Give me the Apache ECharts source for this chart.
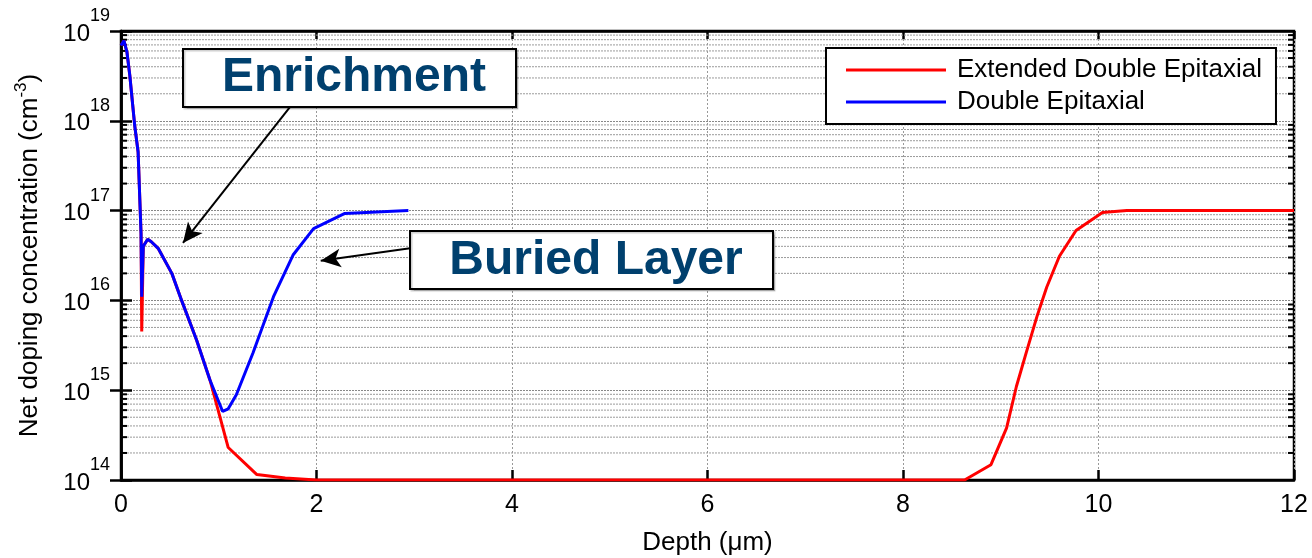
<!DOCTYPE html>
<html>
<head>
<meta charset="utf-8">
<script src="https://cdn.jsdelivr.net/npm/echarts@6/dist/echarts.min.js"></script>
<style>
  html, body { margin: 0; padding: 0; background: #fff; }
  #main { width: 1312px; height: 558px; }
</style>
</head>
<body>
<div id="main"></div>
<script>
// depth in um, net doping in cm^-3
var depthRed = [0, 0.03, 0.061, 0.09, 0.14, 0.175, 0.205, 0.212, 0.228, 0.273, 0.31, 0.38, 0.52, 0.62, 0.774, 0.91,
    1.097, 1.39, 1.68, 2.0, 8.63, 8.9, 9.06, 9.16, 9.26, 9.37, 9.47, 9.6, 9.77, 10.04, 10.29, 12];
var concRed = [6.9e18, 7.8e18, 5.8e18, 3.2e18, 8.9e17, 4.5e17, 5.6e16, 4.5e15, 4.0e16, 4.8e16, 4.5e16, 3.8e16, 2.0e16, 1.0e16, 3.6e15, 1.3e15,
    2.3e14, 1.15e14, 1.05e14, 1.0e14, 1.0e14, 1.48e14, 3.8e14, 1.1e15, 2.6e15, 6.6e15, 1.4e16, 3.1e16, 6.0e16, 9.5e16, 1.0e17, 1.0e17];

var depthBlue = [0, 0.03, 0.061, 0.09, 0.14, 0.175, 0.205, 0.212, 0.228, 0.273, 0.31, 0.38, 0.52, 0.62, 0.774, 0.91,
    1.04, 1.097, 1.18, 1.35, 1.56, 1.76, 1.97, 2.29, 2.94];
var concBlue = [6.9e18, 7.8e18, 5.8e18, 3.2e18, 8.9e17, 4.5e17, 5.6e16, 1.1e16, 4.0e16, 4.8e16, 4.5e16, 3.8e16, 2.0e16, 1.0e16, 3.6e15, 1.3e15,
    5.8e14, 6.2e14, 8.9e14, 2.6e15, 1.1e16, 3.2e16, 6.3e16, 9.3e16, 1.0e17];

var seriesNames = ['Extended Double Epitaxial', 'Double Epitaxial'];

// arrows: [from, to] in (depth, conc)
var arrowEnrich = [[1.73, 1.43e18], [0.634, 4.36e16]];
var arrowBuried = [[2.957, 3.8e16], [2.043, 2.77e16]];

var FONT = '"Liberation Sans", Arial, Helvetica, sans-serif';

function pairs(xs, ys) {
    var out = [];
    for (var i = 0; i < xs.length; i++) out.push([xs[i], ys[i]]);
    return out;
}

// minor log grid positions 2..9 x 10^n
var minorVals = [];
for (var e = 14; e < 19; e++) {
    for (var k = 2; k <= 9; k++) minorVals.push([0, k * Math.pow(10, e)]);
}

var myChart = echarts.init(document.getElementById('main'));

var option = {
    animation: false,
    backgroundColor: '#fff',
    grid: {
        left: 121, right: 18, top: 31, bottom: 78,
        outerBoundsMode: 'none',
        show: true, borderColor: '#000', borderWidth: 2.5
    },
    legend: {
        left: 826, top: 48,
        orient: 'vertical',
        backgroundColor: '#fff',
        borderColor: '#000', borderWidth: 2,
        padding: [8, 14, 8, 20],
        itemWidth: 100, itemHeight: 3, itemGap: 4,
        icon: 'rect',
        textStyle: { fontSize: 26, lineHeight: 28, color: '#000', fontFamily: FONT, padding: [0, 0, 0, 6] },
        data: seriesNames
    },
    xAxis: [
        {
            type: 'value', min: 0, max: 12, interval: 2,
            name: 'Depth (\u03bcm)', nameLocation: 'middle', nameGap: 50,
            nameTextStyle: { fontSize: 26, color: '#000', fontFamily: FONT },
            axisLine: { show: true, lineStyle: { color: '#000', width: 2.5 } },
            axisTick: { show: true, inside: true, length: 10, lineStyle: { color: '#000', width: 2.5 } },
            axisLabel: { fontSize: 25, color: '#000', fontFamily: FONT, margin: 13 },
            splitLine: { show: true, lineStyle: { color: '#999', width: 1, type: [2, 2] } }
        },
        {
            type: 'value', min: 0, max: 12, interval: 2, position: 'top',
            axisLine: { show: true, lineStyle: { color: '#000', width: 2.5 } },
            axisTick: { show: true, inside: true, length: 8, lineStyle: { color: '#000', width: 2.5 } },
            axisLabel: { show: false },
            splitLine: { show: false }
        }
    ],
    yAxis: [
        {
            type: 'log', logBase: 10, min: 1e14, max: 1e19,
            name: '{n|Net doping concentration (cm}{s|-3}{n|)}',
            nameLocation: 'middle', nameGap: 75,
            nameTextStyle: {
                color: '#000', fontFamily: FONT,
                rich: {
                    n: { fontSize: 26, fontFamily: FONT, color: '#000' },
                    s: { fontSize: 17, fontFamily: FONT, color: '#000', padding: [0, 0, 16, 0] }
                }
            },
            axisLine: { show: true, lineStyle: { color: '#000', width: 2.5 } },
            axisTick: { show: true, inside: true, length: 11, lineStyle: { color: '#000', width: 2.5 } },
            axisLabel: {
                margin: 11,
                formatter: function (v) {
                    return '{b|10}{s|' + Math.round(Math.log10(v)) + '}';
                },
                rich: {
                    b: { fontSize: 24, fontFamily: FONT, color: '#000', padding: [6, 0, 0, 0] },
                    s: { fontSize: 18, fontFamily: FONT, color: '#000', padding: [0, 0, 30, 0] }
                }
            },
            splitLine: { show: true, lineStyle: { color: '#888', width: 1, type: [2, 1] } }
        },
        {
            type: 'log', logBase: 10, min: 1e14, max: 1e19, position: 'right',
            axisLine: { show: true, lineStyle: { color: '#000', width: 2.5 } },
            axisTick: { show: true, inside: true, length: 11, lineStyle: { color: '#000', width: 2.5 } },
            axisLabel: { show: false },
            splitLine: { show: false }
        }
    ],
    series: [
        {
            // minor log gridlines + minor ticks on both y axes
            type: 'custom',
            silent: true,
            z: 1,
            data: minorVals,
            renderItem: function (params, api) {
                var v = api.value(1);
                var a = api.coord([0, v]);
                var b = api.coord([12, v]);
                return {
                    type: 'group',
                    children: [
                        { type: 'line', shape: { x1: a[0], y1: a[1], x2: b[0], y2: b[1] },
                          style: { stroke: '#9a9a9a', lineWidth: 1, lineDash: [2, 1] } },
                        { type: 'line', shape: { x1: a[0], y1: a[1], x2: a[0] + 6, y2: a[1] },
                          style: { stroke: '#000', lineWidth: 2 } },
                        { type: 'line', shape: { x1: b[0] - 6, y1: b[1], x2: b[0], y2: b[1] },
                          style: { stroke: '#000', lineWidth: 2 } }
                    ]
                };
            }
        },
        {
            name: seriesNames[0],
            type: 'line',
            data: pairs(depthRed, concRed),
            showSymbol: false,
            color: '#ff0000',
            lineStyle: { color: '#ff0000', width: 3 },
            z: 3
        },
        {
            name: seriesNames[1],
            type: 'line',
            data: pairs(depthBlue, concBlue),
            showSymbol: false,
            color: '#0000ff',
            lineStyle: { color: '#0000ff', width: 3 },
            z: 4,
            markLine: {
                silent: true,
                symbol: ['none', 'arrow'],
                symbolSize: [14, 20],
                label: { show: false },
                lineStyle: { color: '#000', width: 2, type: 'solid' },
                data: [
                    [{ coord: arrowEnrich[0] }, { coord: arrowEnrich[1] }],
                    [{ coord: arrowBuried[0] }, { coord: arrowBuried[1] }]
                ]
            }
        }
    ],
    graphic: [
        {
            type: 'rect', z: 100,
            shape: { x: 183, y: 49, width: 333, height: 58 },
            style: { fill: '#fff', stroke: '#000', lineWidth: 2,
                     shadowColor: 'rgba(0,0,0,0.2)', shadowOffsetX: 1.5, shadowOffsetY: 1.5, shadowBlur: 1 }
        },
        {
            type: 'text', z: 101, x: 354, y: 78,
            style: { text: 'Enrichment', font: 'bold 48px ' + FONT, fill: '#00406e', align: 'center', verticalAlign: 'middle' }
        },
        {
            type: 'rect', z: 100,
            shape: { x: 410, y: 231, width: 363, height: 58 },
            style: { fill: '#fff', stroke: '#000', lineWidth: 2,
                     shadowColor: 'rgba(0,0,0,0.2)', shadowOffsetX: 1.5, shadowOffsetY: 1.5, shadowBlur: 1 }
        },
        {
            type: 'text', z: 101, x: 596, y: 261,
            style: { text: 'Buried Layer', font: 'bold 48px ' + FONT, fill: '#00406e', align: 'center', verticalAlign: 'middle' }
        }
    ]
};

if (option && typeof option === 'object') {
    myChart.setOption(option, true);
}
</script>
</body>
</html>
